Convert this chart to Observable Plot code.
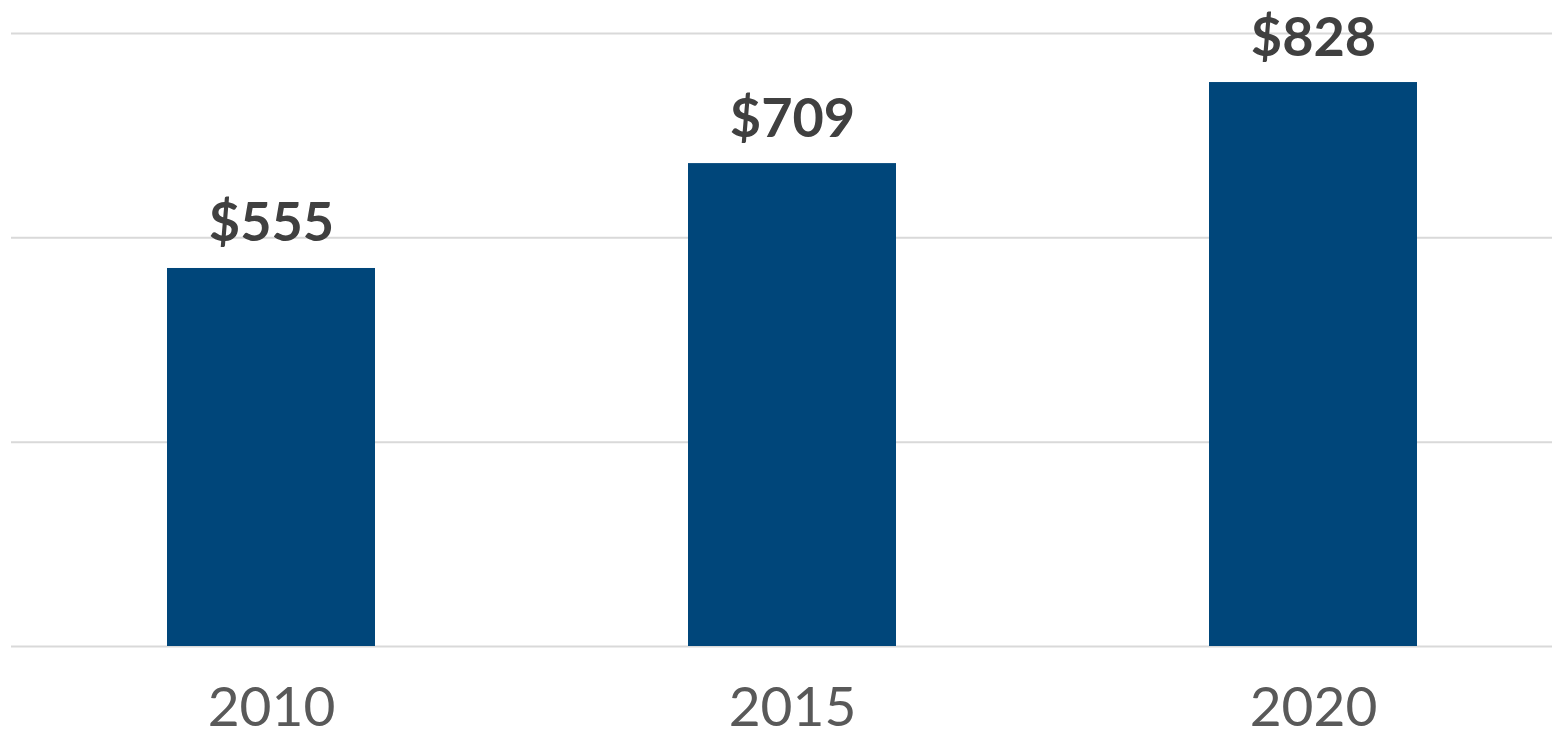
<!DOCTYPE html>
<html>
<head>
<meta charset="utf-8">
<script src="https://cdn.jsdelivr.net/npm/d3@7"></script>
<script src="https://cdn.jsdelivr.net/npm/@observablehq/plot@0.6"></script>
<style>
  html, body { margin: 0; padding: 0; background: #fff; overflow: hidden; }
</style>
</head>
<body>
<div id="chart"></div>
<script>
const years = ["2010", "2015", "2020"];
const values = [555, 709, 828];
const valueLabels = ["$555", "$709", "$828"];
const gridTicks = [0, 300, 600, 900];

const data = years.map((y, i) => ({year: y, value: values[i], label: valueLabels[i]}));

const chart = Plot.plot({
  width: 1552,
  height: 741,
  marginTop: 33,
  marginBottom: 95,
  marginLeft: 11,
  marginRight: 0,
  style: {fontFamily: "Lato, sans-serif", background: "#fff"},
  x: {domain: years, range: [10.5, 1573.5], paddingInner: 0.6, paddingOuter: 0.3, label: null},
  y: {domain: [0, 900], axis: null},
  marks: [
    Plot.ruleY(gridTicks, {stroke: "#d9d9d9", strokeWidth: 2}),
    Plot.barY(data, {x: "year", y: "value", fill: "#00467a"}),
    Plot.text(data, {x: "year", y: "value", text: "label", lineAnchor: "bottom", dy: -27,
      fontSize: 54, fontWeight: "bold", fill: "#404040", letterSpacing: "2px"}),
    Plot.axisX({tickSize: 0, tickPadding: 40, fontSize: 55, color: "#595959", label: null, letterSpacing: "2px"})
  ]
});
document.getElementById("chart").appendChild(chart);
</script>
</body>
</html>
